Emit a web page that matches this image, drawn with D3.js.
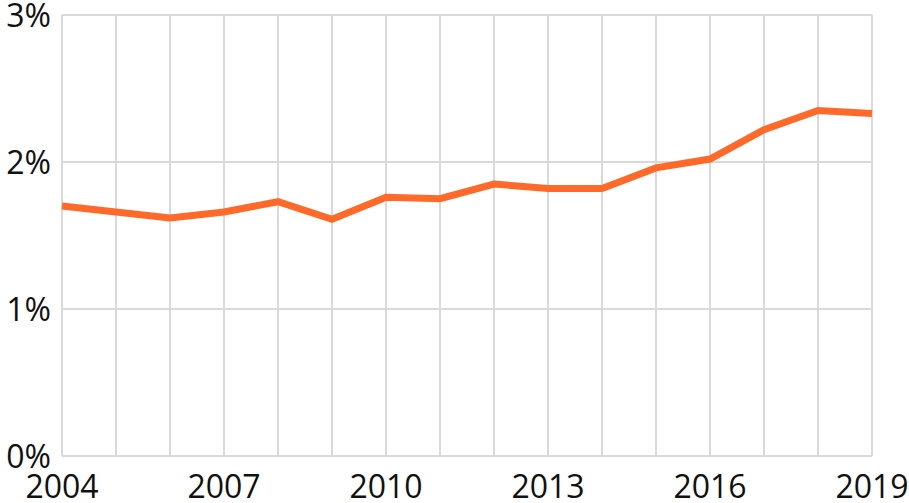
<!DOCTYPE html>
<html>
<head>
<meta charset="utf-8">
<style>
  html, body { margin: 0; padding: 0; background: #fff; }
  svg { display: block; }
  text { font-family: "Open Sans", sans-serif; fill: #111; }
</style>
<script src="https://cdn.jsdelivr.net/npm/d3@7"></script>
</head>
<body>
<div id="chart"></div>
<script>
// data
var years = [2004, 2005, 2006, 2007, 2008, 2009, 2010, 2011, 2012, 2013, 2014, 2015, 2016, 2017, 2018, 2019];
var values = [1.70, 1.66, 1.62, 1.66, 1.73, 1.61, 1.76, 1.75, 1.85, 1.82, 1.82, 1.96, 2.02, 2.22, 2.35, 2.33];
var yTicks = [0, 1, 2, 3];
var xLabelYears = [2004, 2007, 2010, 2013, 2016, 2019];

var width = 909,
    height = 503,
    margin = {top: 15, right: 37, bottom: 47, left: 62};

var svg = d3.select("#chart").append("svg")
    .attr("width", width)
    .attr("height", height);

var x = d3.scaleLinear()
    .domain([2004, 2019])
    .range([margin.left, width - margin.right]);

var y = d3.scaleLinear()
    .domain([0, 3])
    .range([height - margin.bottom, margin.top]);

// grid
svg.append("g").selectAll("line")
    .data(years)
    .join("line")
    .attr("x1", d => x(d)).attr("x2", d => x(d))
    .attr("y1", y(0)).attr("y2", y(3))
    .attr("stroke", "#d9d9d9")
    .attr("stroke-width", 2);

svg.append("g").selectAll("line")
    .data(yTicks)
    .join("line")
    .attr("x1", x(2004)).attr("x2", x(2019))
    .attr("y1", d => y(d)).attr("y2", d => y(d))
    .attr("stroke", "#d9d9d9")
    .attr("stroke-width", 2);

// y labels
svg.append("g").selectAll("text")
    .data(yTicks)
    .join("text")
    .attr("x", 51)
    .attr("y", d => y(d))
    .attr("dy", "0.36em")
    .attr("text-anchor", "end")
    .style("font-size", "32px")
    .text(d => d + "%");

// x labels
svg.append("g").selectAll("text")
    .data(xLabelYears)
    .join("text")
    .attr("x", d => x(d))
    .attr("y", 498)
    .attr("text-anchor", "middle")
    .style("font-size", "32px")
    .text(d => d);

var line = d3.line()
    .x((d, i) => x(years[i]))
    .y(d => y(d));

svg.append("path")
    .datum(values)
    .attr("d", line)
    .attr("fill", "none")
    .attr("stroke", "#ff6a2a")
    .attr("stroke-width", 7)
    .attr("stroke-linejoin", "miter");
</script>
</body>
</html>
